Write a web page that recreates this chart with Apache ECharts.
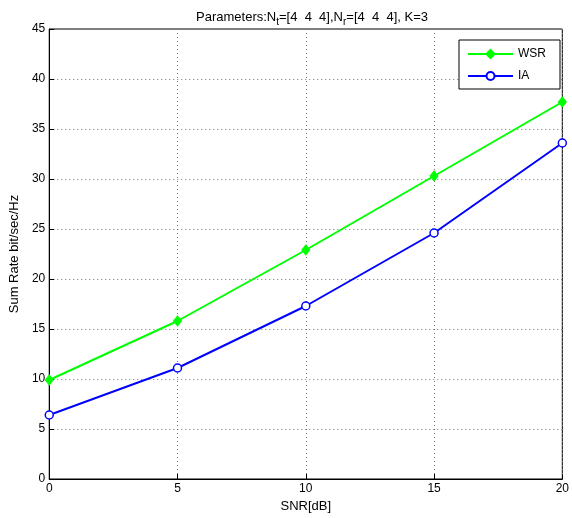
<!DOCTYPE html>
<html><head><meta charset="utf-8">
<script src="https://cdn.jsdelivr.net/npm/echarts@6/dist/echarts.min.js"></script>
<style>html,body{margin:0;padding:0;background:#fff}#c{width:572px;height:518px}</style>
</head><body><div id="c"></div>
<script>
const snr = [0, 5, 10, 15, 20];
const wsr = [9.9, 15.8, 22.9, 30.3, 37.7];
const ia = [6.4, 11.1, 17.3, 24.6, 33.6];
const seriesNames = ['WSR', 'IA'];
const FONT = 'Liberation Sans, Arial, sans-serif';
const chart = echarts.init(document.getElementById('c'));
chart.setOption({
  animation: false,
  backgroundColor: '#fff',
  title: {
    text: 'Parameters:N{s|t}=[4  4  4],N{s|r}=[4  4  4], K=3',
    left: 307, textAlign: 'center', top: 2,
    textStyle: {
      fontFamily: FONT, fontSize: 13, fontWeight: 'normal', color: '#000',
      rich: { s: { fontFamily: FONT, fontSize: 10, verticalAlign: 'bottom', padding: [10, 0, 0, 0], color: '#000' } }
    }
  },
  grid: { left: 47, right: 5, top: 29, bottom: 37, show: true, borderColor: '#000', borderWidth: 1 },
  legend: {
    orient: 'vertical', right: 12, top: 40,
    data: seriesNames,
    borderColor: '#000', borderWidth: 1, backgroundColor: '#fff',
    padding: [8, 14, 7, 8], itemGap: 10, itemWidth: 45, itemHeight: 10,
    textStyle: { fontFamily: FONT, fontSize: 12, color: '#000' }
  },
  xAxis: {
    type: 'value', min: 0, max: 20, interval: 5,
    name: 'SNR[dB]', nameLocation: 'middle', nameGap: 21,
    nameTextStyle: { fontFamily: FONT, fontSize: 13, color: '#000' },
    axisLine: { show: true, lineStyle: { color: '#000', width: 1 } },
    axisTick: { show: true, inside: true, length: 5, lineStyle: { color: '#000' } },
    axisLabel: { fontFamily: FONT, fontSize: 12, color: '#000', margin: 4 },
    splitLine: { show: true, lineStyle: { color: '#777', type: [1, 3], width: 1 } }
  },
  yAxis: {
    type: 'value', min: 0, max: 45, interval: 5,
    name: 'Sum Rate bit/sec/Hz', nameLocation: 'middle', nameGap: 25,
    nameTextStyle: { fontFamily: FONT, fontSize: 13, color: '#000' },
    axisLine: { show: true, lineStyle: { color: '#000', width: 1 } },
    axisTick: { show: true, inside: true, length: 5, lineStyle: { color: '#000' } },
    axisLabel: { fontFamily: FONT, fontSize: 12, color: '#000', margin: 4 },
    splitLine: { show: true, lineStyle: { color: '#777', type: [1, 3], width: 1 } }
  },
  series: [
    {
      name: seriesNames[0], type: 'line', data: snr.map((x, i) => [x, wsr[i]]),
      symbol: 'diamond', symbolSize: [8, 10], color: '#00ff00',
      lineStyle: { color: '#00ff00', width: 2 },
      itemStyle: { color: '#00ff00', borderColor: '#00ff00', borderWidth: 1 }
    },
    {
      name: seriesNames[1], type: 'line', data: snr.map((x, i) => [x, ia[i]]),
      symbol: 'circle', symbolSize: 8, color: '#0000ff',
      lineStyle: { color: '#0000ff', width: 2 },
      itemStyle: { color: '#fff', borderColor: '#0000ff', borderWidth: 1.5 }
    }
  ]
});
</script></body></html>
